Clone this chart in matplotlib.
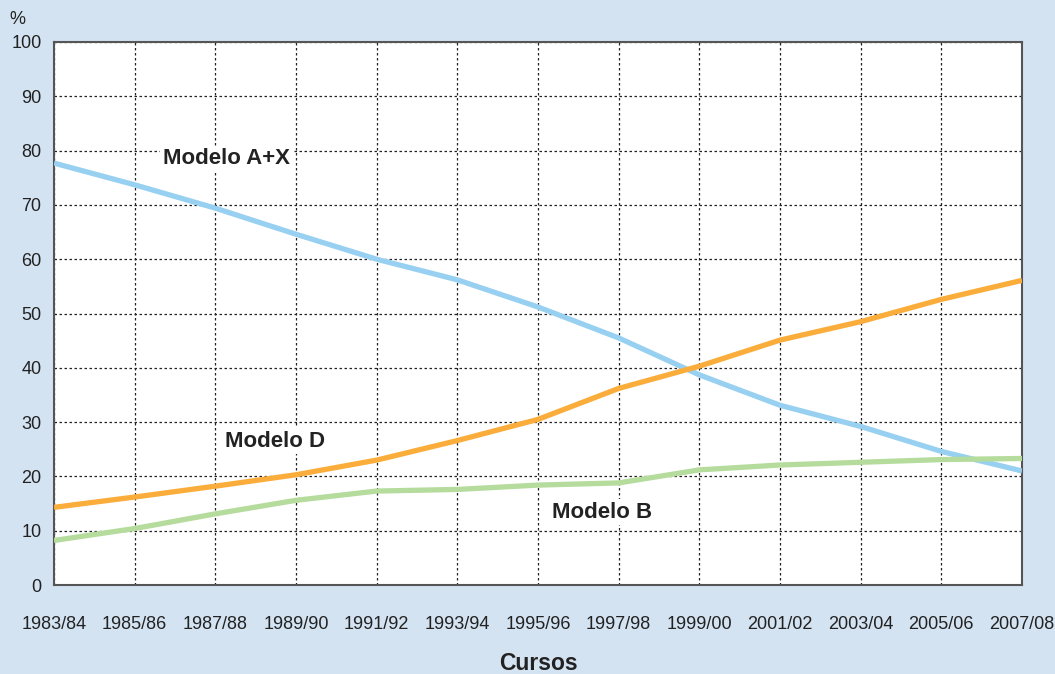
import matplotlib
matplotlib.use("Agg")
import matplotlib.pyplot as plt

plt.rcParams["font.family"] = ["Liberation Sans", "DejaVu Sans"]

cursos = ["1983/84", "1985/86", "1987/88", "1989/90", "1991/92", "1993/94", "1995/96",
          "1997/98", "1999/00", "2001/02", "2003/04", "2005/06", "2007/08"]
modelo_ax = [77.7, 73.7, 69.4, 64.6, 60.0, 56.2, 51.2, 45.5, 38.7, 33.1, 29.2, 24.6, 21.0]
modelo_d = [14.3, 16.2, 18.2, 20.3, 23.0, 26.6, 30.5, 36.2, 40.3, 45.1, 48.5, 52.6, 56.1]
modelo_b = [8.2, 10.4, 13.1, 15.6, 17.3, 17.6, 18.4, 18.8, 21.2, 22.1, 22.6, 23.1, 23.3]

bg = "#d4e3f2"
fig = plt.figure(figsize=(10.55, 6.74), dpi=100, facecolor=bg)
ax = fig.add_axes([54/1055, 89/674, 968/1055, 543/674])
ax.set_facecolor("white")

x = list(range(len(cursos)))
ax.plot(x, modelo_ax, color="#97d0f0", lw=3.8, solid_capstyle="butt", zorder=3)
ax.plot(x, modelo_d, color="#fbad3c", lw=3.8, solid_capstyle="butt", zorder=3)
ax.plot(x, modelo_b, color="#b5dc9c", lw=3.8, solid_capstyle="butt", zorder=3)

ax.set_xlim(0, len(cursos) - 1)
ax.set_ylim(0, 100)
ax.set_yticks(range(0, 101, 10))
ax.set_xticks(x)
ax.set_xticklabels(cursos)
ax.tick_params(length=0, labelsize=13, colors="#222222", pad=9)
ax.tick_params(axis="x", pad=22)
ax.grid(True, color="#222222", lw=0.9, linestyle=(0, (2.0, 2.0)), zorder=1)
for s in ax.spines.values():
    s.set_color("#555555")
    s.set_linewidth(1.5)

txtkw = dict(fontsize=16, fontweight="bold", color="#222222", ha="center", va="center",
             zorder=4, bbox=dict(facecolor="white", edgecolor="none", pad=2))
ax.text(2.14, 78.5, "Modelo A+X", **txtkw)
ax.text(2.74, 26.5, "Modelo D", **txtkw)
ax.text(6.8, 13.4, "Modelo B", **txtkw)

fig.text(17/1055, 1 - 20/674, "%", fontsize=13, color="#222222", ha="center", va="center")
fig.text(ax.get_position().x0 + ax.get_position().width / 2, 1 - 664/674, "Cursos",
         fontsize=16.5, fontweight="bold", color="#222222", ha="center", va="center")

fig.savefig("out.png", dpi=100, facecolor=bg)
